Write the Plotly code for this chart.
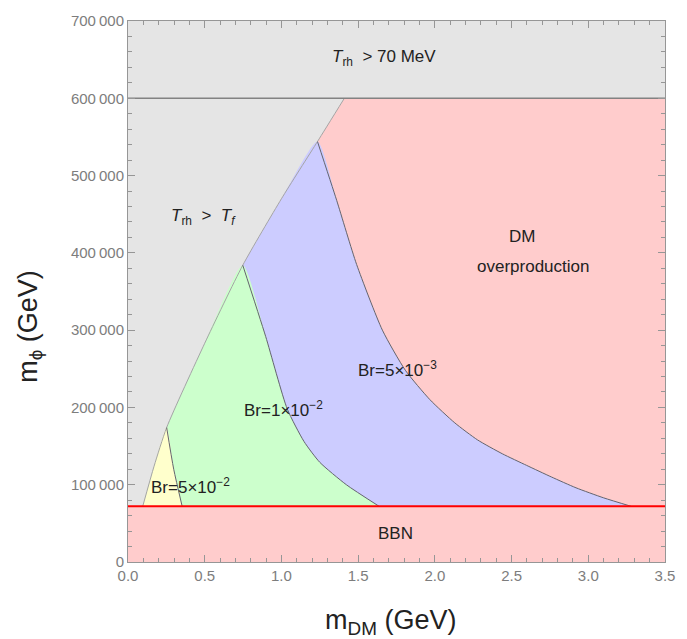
import plotly.graph_objects as go

# ---- data ----
x_limits = [0, 3.5]
y_limits = [0, 700000]
trh_limit = 600000          # T_rh > 70 MeV boundary
bbn_limit = 72000           # BBN boundary

# T_rh > T_f boundary (gray / coloured edge)
bound_x = [0.096, 0.17, 0.252, 0.50, 0.748, 1.00, 1.235, 1.41]
bound_y = [72000, 124000, 174000, 283000, 384000, 470000, 544000, 600000]

# Br = 5e-2 edge (yellow / green)
br5e2_x = [0.252, 0.298, 0.353]
br5e2_y = [174000, 120000, 72000]

# Br = 1e-2 edge (green / blue)
br1e2_x = [0.748, 0.897, 1.038, 1.147, 1.25, 1.423, 1.637]
br1e2_y = [384000, 292000, 198000, 156000, 129000, 100000, 72000]

# Br = 5e-3 edge (blue / red)
br5e3_x = [1.235, 1.36, 1.49, 1.658, 1.808, 1.968, 2.13, 2.278, 2.44, 2.598,
           2.76, 2.92, 3.1, 3.28]
br5e3_y = [544000, 468000, 385000, 300000, 248000, 210000, 180000, 158000, 140000,
           125000, 110000, 96000, 83000, 72000]

x_tickvals = [0, 0.5, 1.0, 1.5, 2.0, 2.5, 3.0, 3.5]
x_ticktext = ["0.0", "0.5", "1.0", "1.5", "2.0", "2.5", "3.0", "3.5"]
y_tickvals = [0, 100000, 200000, 300000, 400000, 500000, 600000, 700000]
y_ticktext = ["0", "100\u2009000", "200\u2009000", "300\u2009000", "400\u2009000",
              "500\u2009000", "600\u2009000", "700\u2009000"]

labels = [
    ("<i>T</i><sub>rh</sub>  > 70 MeV", 1.67, 652000),
    ("<i>T</i><sub>rh</sub>  >  <i>T</i><sub><i>f</i></sub>", 0.49, 446000),
    ("DM", 2.57, 421000),
    ("overproduction", 2.64, 382000),
    ("Br=5\u00d710<sup>\u22123</sup>", 1.757, 250000),
    ("Br=1\u00d710<sup>\u22122</sup>", 1.013, 198000),
    ("Br=5\u00d710<sup>\u22122</sup>", 0.41, 98000),
    ("BBN", 1.744, 37000),
]

x_title = "m<sub>DM</sub> (GeV)"
y_title = "m<sub>\u03d5</sub> (GeV)"

GRAY = "rgb(229,229,229)"
RED = "rgb(255,204,204)"
BLUE = "rgb(204,204,255)"
GREEN = "rgb(204,255,204)"
YELLOW = "rgb(255,255,204)"


def region(top_x, cx, cy):
    px = [x for x in bound_x if x < top_x] + cx
    py = [y for x, y in zip(bound_x, bound_y) if x < top_x] + cy
    return px, py


fig = go.Figure()

# red: everything right of the boundary below T_rh limit plus the BBN band
rx = [x_limits[0]] + bound_x + [x_limits[1], x_limits[1], x_limits[0]]
ry = [bbn_limit] + bound_y + [trh_limit, y_limits[0], y_limits[0]]
fig.add_trace(go.Scatter(x=rx, y=ry, fill="toself", fillcolor=RED, mode="none",
                         hoverinfo="skip", showlegend=False))

for cx, cy, col in [(br5e3_x, br5e3_y, BLUE), (br1e2_x, br1e2_y, GREEN),
                    (br5e2_x, br5e2_y, YELLOW)]:
    px, py = region(cx[0], cx, cy)
    fig.add_trace(go.Scatter(x=px, y=py, fill="toself", fillcolor=col,
                             mode="lines", line=dict(width=0, shape="spline", smoothing=0.6),
                             hoverinfo="skip", showlegend=False))

# edges
fig.add_trace(go.Scatter(x=bound_x, y=bound_y, mode="lines",
                         line=dict(color="rgb(165,165,165)", width=1, shape="spline",
                                   smoothing=0.6),
                         hoverinfo="skip", showlegend=False))
for cx, cy in [(br5e3_x, br5e3_y), (br1e2_x, br1e2_y), (br5e2_x, br5e2_y)]:
    fig.add_trace(go.Scatter(x=cx, y=cy, mode="lines",
                             line=dict(color="rgb(100,100,110)", width=1, shape="spline",
                                       smoothing=0.6),
                             hoverinfo="skip", showlegend=False))
fig.add_trace(go.Scatter(x=x_limits, y=[trh_limit, trh_limit], mode="lines",
                         line=dict(color="rgb(130,130,130)", width=1.5),
                         hoverinfo="skip", showlegend=False))
fig.add_trace(go.Scatter(x=x_limits, y=[bbn_limit, bbn_limit], mode="lines",
                         line=dict(color="rgb(255,0,0)", width=2),
                         hoverinfo="skip", showlegend=False))

for txt, lx, ly in labels:
    fig.add_annotation(x=lx, y=ly, text=txt, showarrow=False,
                       font=dict(family="Liberation Sans", size=17, color="#222"))

# axis titles as paper-positioned annotations
fig.add_annotation(xref="paper", yref="paper", x=0.489, y=-0.110, text=x_title,
                   showarrow=False, xanchor="center", yanchor="middle",
                   font=dict(family="Liberation Sans", size=27, color="#222"))
fig.add_annotation(xref="paper", yref="paper", x=-0.183, y=0.436, text=y_title,
                   showarrow=False, xanchor="center", yanchor="middle", textangle=-90,
                   font=dict(family="Liberation Sans", size=27, color="#222"))

axis_common = dict(
    showgrid=False, zeroline=False, showline=True, linecolor="rgb(150,150,150)",
    linewidth=1, mirror="ticks", ticks="inside", ticklen=7,
    tickcolor="rgb(150,150,150)",
    tickfont=dict(family="Liberation Sans", size=15, color="rgb(125,125,125)"),
)

fig.update_xaxes(range=x_limits, tickmode="array", tickvals=x_tickvals,
                 ticktext=x_ticktext,
                 minor=dict(ticks="inside", ticklen=4, tickmode="linear", tick0=0,
                            dtick=0.1, tickcolor="rgb(150,150,150)", showgrid=False),
                 **axis_common)
fig.update_yaxes(range=y_limits, tickmode="array", tickvals=y_tickvals,
                 ticktext=y_ticktext,
                 minor=dict(ticks="inside", ticklen=4, tickmode="linear", tick0=0,
                            dtick=20000, tickcolor="rgb(150,150,150)", showgrid=False),
                 **axis_common)

fig.update_layout(
    width=687, height=639,
    margin=dict(l=128, r=13, t=18, b=77),
    paper_bgcolor="white", plot_bgcolor=GRAY,
    showlegend=False,
)

fig.write_html("out.html")
